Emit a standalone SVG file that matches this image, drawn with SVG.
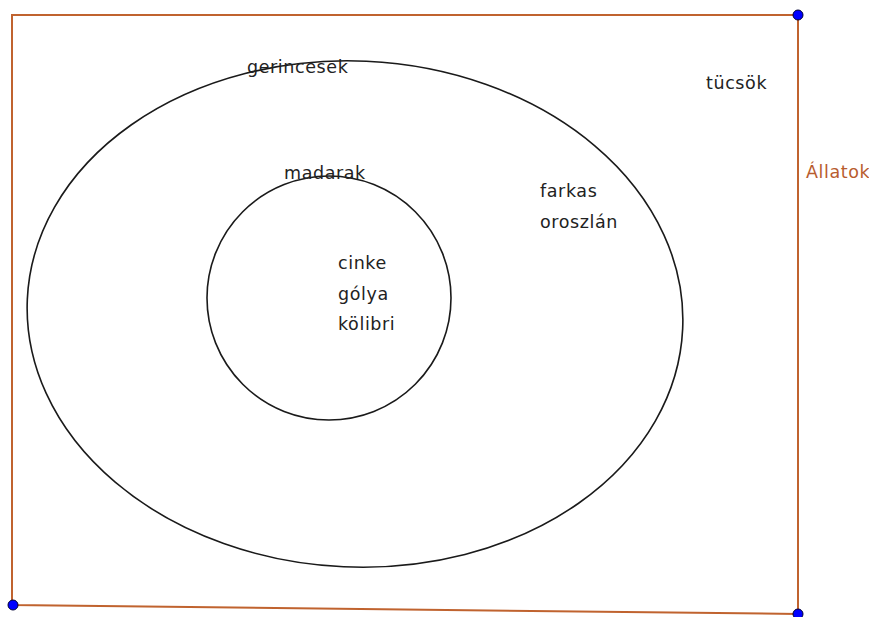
<svg xmlns="http://www.w3.org/2000/svg" width="869" height="617" viewBox="0 0 869 617">
<style>
.t{font-family:"DejaVu Sans","Liberation Sans",sans-serif;font-size:17.5px;letter-spacing:0.6px;fill:#222}
.br{fill:#b85c2e}
.set{fill:none;stroke:#1a1a1a;stroke-width:1.6}
.edge{fill:none;stroke:#c0632f;stroke-width:2}
.pt{fill:#0000ff;stroke:#000033;stroke-width:1}
</style>
<rect width="869" height="617" fill="#fff"/>
<g id="connectors">
<polyline class="edge" points="798,614 798,15 12,15 12,605 798,614"/>
</g>
<g id="allatok">
<text class="t br" x="806" y="178">Állatok</text>
<text class="t" x="706" y="89">tücsök</text>
</g>
<g id="gerincesek">
<ellipse class="set" cx="355" cy="314" rx="328" ry="253" transform="rotate(2.6 355 314)"/>
<text class="t" x="247" y="73">gerincesek</text>
<text class="t" x="540" y="197">farkas</text>
<text class="t" x="540" y="228">oroszlán</text>
</g>
<g id="madarak">
<circle class="set" cx="329" cy="298" r="122"/>
<text class="t" x="284" y="179">madarak</text>
<text class="t" x="338" y="269">cinke</text>
<text class="t" x="338" y="300">gólya</text>
<text class="t" x="338" y="330">kölibri</text>
</g>
<g id="points">
<circle class="pt" cx="798" cy="15" r="5"/>
<circle class="pt" cx="13" cy="605" r="5"/>
<circle class="pt" cx="798" cy="614" r="5"/>
</g>
</svg>
